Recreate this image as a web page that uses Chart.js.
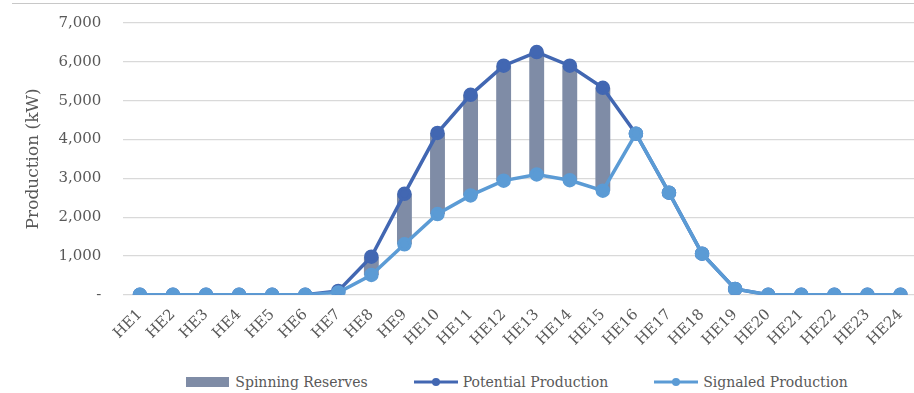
<!DOCTYPE html>
<html>
<head>
<meta charset="utf-8">
<script src="https://cdn.jsdelivr.net/npm/chart.js@4/dist/chart.umd.min.js"></script>
<style>
  html, body { margin: 0; padding: 0; background: #fff; overflow: hidden; font-family: 'DejaVu Serif', 'Liberation Serif', serif; }
  #topline { position: absolute; left: 12px; top: 3px; width: 910px; height: 1px; background: #c8c8c8; }
  #wrap { position: absolute; left: 0; top: -8px; width: 926px; height: 360px; }
  #legend { position: absolute; left: 0; top: 374px; width: 1034px; display: flex; justify-content: center; gap: 46px; color: #595959; font-size: 14px; }
  #legend .item { display: flex; align-items: center; gap: 5px; white-space: nowrap; }
</style>
</head>
<body>
<div id="topline"></div>
<div id="wrap"><canvas id="myChart"></canvas></div>
<div id="legend"></div>
<script>
// hours
const hours = ["HE1", "HE2", "HE3", "HE4", "HE5", "HE6", "HE7", "HE8", "HE9", "HE10", "HE11", "HE12",
    "HE13", "HE14", "HE15", "HE16", "HE17", "HE18", "HE19", "HE20", "HE21", "HE22", "HE23", "HE24"];

// potential and signaled production (kW)
const potential = [0, 0, 0, 0, 0, 0, 100, 980, 2600, 4170, 5150, 5900,
    6250, 5900, 5330, 4150, 2630, 1060, 150, 0, 0, 0, 0, 0];
const signaled = [0, 0, 0, 0, 0, 0, 60, 510, 1300, 2080, 2560, 2940,
    3100, 2950, 2680, 4150, 2630, 1060, 150, 0, 0, 0, 0, 0];

// spinning reserves only shown HE8 - HE15
const reserveHours = ["HE8", "HE9", "HE10", "HE11", "HE12", "HE13", "HE14", "HE15"];

const yTicks = [0, 1000, 2000, 3000, 4000, 5000, 6000, 7000];

const reserves = hours.map((h, i) => reserveHours.includes(h) ? [signaled[i], potential[i]] : null);

const barColor = "#7f8ca6";
const darkBlue = "#4267b2";
const lightBlue = "#5b9bd5";
const textColor = "#595959";

// little legend icons
function legendIcon(color, isLine) {
    const c = document.createElement("canvas");
    c.width = 44;
    c.height = 12;
    const ctx = c.getContext("2d");
    if (isLine) {
        ctx.strokeStyle = color;
        ctx.lineWidth = 3;
        ctx.beginPath();
        ctx.moveTo(0, 6);
        ctx.lineTo(44, 6);
        ctx.stroke();
        ctx.fillStyle = color;
        ctx.beginPath();
        ctx.arc(22, 6, 4, 0, Math.PI * 2);
        ctx.fill();
    } else {
        ctx.fillStyle = color;
        ctx.fillRect(0, 1, 43, 10);
    }
    return c;
}

Chart.defaults.font.family = "'DejaVu Serif', 'Liberation Serif', serif";
Chart.defaults.color = textColor;

window.myChart = new Chart("myChart", {
    data: {
        labels: hours,
        datasets: [
            {
                type: "line",
                label: "Signaled Production",
                data: signaled,
                borderColor: lightBlue,
                backgroundColor: lightBlue,
                borderWidth: 3.5,
                pointRadius: 5.5,
                pointHoverRadius: 5.5,
                order: 1
            },
            {
                type: "line",
                label: "Potential Production",
                data: potential,
                borderColor: darkBlue,
                backgroundColor: darkBlue,
                borderWidth: 3.5,
                pointRadius: 5.5,
                pointHoverRadius: 5.5,
                order: 2
            },
            {
                type: "bar",
                label: "Spinning Reserves",
                data: reserves,
                backgroundColor: barColor,
                categoryPercentage: 1,
                barPercentage: 0.45,
                order: 3
            }
        ]
    },
    options: {
        responsive: true,
        maintainAspectRatio: false,
        animation: false,
        layout: { padding: { left: 19, right: 0, top: -2, bottom: 0 } },
        plugins: {
            tooltip: { enabled: false },
            legend: { display: false }
        },
        scales: {
            x: {
                offset: true,
                grid: { display: false },
                border: { display: false },
                ticks: {
                    maxRotation: 45,
                    minRotation: 45,
                    font: { size: 15 },
                    color: textColor
                }
            },
            y: {
                min: 0,
                max: 7000,
                afterBuildTicks: axis => { axis.ticks = yTicks.map(v => ({ value: v })); },
                grid: { color: "#d9d9d9", lineWidth: 1.2, drawTicks: false },
                border: { display: false },
                title: {
                    display: true,
                    text: "Production (kW)",
                    font: { size: 17 },
                    color: textColor,
                    padding: { top: 4, bottom: -7 }
                },
                ticks: {
                    padding: 22,
                    font: { size: 15 },
                    color: textColor,
                    callback: v => v === 0 ? "-" : v.toLocaleString("en-US")
                }
            }
        }
    }
});

// html legend, same order as the reference
const legendEl = document.getElementById("legend");
[
    [barColor, false, "Spinning Reserves"],
    [darkBlue, true, "Potential Production"],
    [lightBlue, true, "Signaled Production"]
].forEach(([color, isLine, text]) => {
    const item = document.createElement("div");
    item.className = "item";
    item.appendChild(legendIcon(color, isLine));
    const span = document.createElement("span");
    span.textContent = text;
    item.appendChild(span);
    legendEl.appendChild(item);
});
</script>
</body>
</html>
